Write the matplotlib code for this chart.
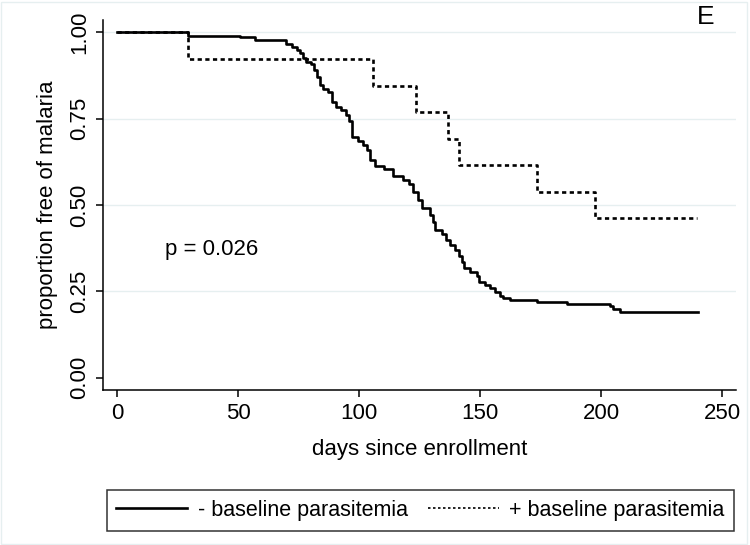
"""Kaplan-Meier style curve: proportion free of malaria by baseline parasitemia (panel E)."""
import matplotlib
matplotlib.use('Agg')
import matplotlib.pyplot as plt
from matplotlib.lines import Line2D

plt.rcParams['font.family'] = ['Liberation Sans', 'DejaVu Sans']

# ── data ─────────────────────────────────────────────────────────────────────
# - baseline parasitemia (solid)
days_neg = [0, 29.3, 50.8, 57.0, 69.8, 72.3, 74.4, 75.6, 76.9, 78.1, 80.2, 81.4,
            82.6, 83.9, 85.1, 87.2, 88.8, 90.5, 92.6, 94.6, 95.9, 97.1, 99.6,
            101.7, 103.3, 104.5, 106.6, 110.3, 114.0, 118.2, 120.7, 122.3, 124.4,
            126.0, 129.3, 130.6, 131.4, 134.3, 136.0, 137.6, 139.7, 141.3, 142.6,
            143.4, 145.9, 148.8, 149.6, 152.1, 154.1, 156.2, 158.3, 159.5, 162.4,
            173.6, 186.0, 203.7, 205.0, 207.9, 240.1]
surv_neg = [1.000, 0.990, 0.986, 0.978, 0.967, 0.958, 0.949, 0.941, 0.926, 0.914,
            0.909, 0.891, 0.871, 0.848, 0.836, 0.828, 0.799, 0.784, 0.775, 0.761,
            0.743, 0.697, 0.686, 0.674, 0.659, 0.630, 0.613, 0.604, 0.584, 0.572,
            0.561, 0.538, 0.514, 0.491, 0.471, 0.451, 0.428, 0.416, 0.399, 0.384,
            0.370, 0.352, 0.335, 0.317, 0.306, 0.294, 0.277, 0.268, 0.259, 0.248,
            0.236, 0.230, 0.225, 0.219, 0.213, 0.207, 0.199, 0.190, 0.190]

# + baseline parasitemia (dashed)
days_pos = [0, 29.3, 105.9, 123.4, 136.9, 141.5, 173.4, 197.5, 239.7]
surv_pos = [1.000, 0.923, 0.846, 0.769, 0.692, 0.615, 0.538, 0.462, 0.462]

x_ticks = [0, 50, 100, 150, 200, 250]
y_ticks = [0.00, 0.25, 0.50, 0.75, 1.00]
y_tick_labels = ['0.00', '0.25', '0.50', '0.75', '1.00']
legend_labels = ['- baseline parasitemia', '+ baseline parasitemia']

# ── figure ──────────────────────────────────────────────────────────────────
fig = plt.figure(figsize=(7.5, 5.45), dpi=100)
ax = fig.add_axes([0.1373, 0.2844, 0.8440, 0.6789])

ax.step(days_neg, surv_neg, where='post', color='black', lw=1.9, zorder=3)
ax.step(days_pos, surv_pos, where='post', color='black', lw=1.9,
        linestyle=(0, (1.6, 1.3)), zorder=3)

ax.set_xlim(-5.8, 255.8)
ax.set_ylim(-0.036, 1.036)

for yv in y_ticks[1:]:
    ax.axhline(yv, color='#e6eff0', lw=1.0, zorder=1)

for side in ('top', 'right'):
    ax.spines[side].set_visible(False)
for side in ('left', 'bottom'):
    ax.spines[side].set_linewidth(1.1)
    ax.spines[side].set_color('black')

ax.set_xticks(x_ticks)
ax.set_yticks(y_ticks)
ax.set_yticklabels(y_tick_labels, rotation=90, va='center')
ax.tick_params(axis='both', direction='out', length=5, width=1.1,
               labelsize=16, pad=4, colors='black')

ax.set_xlabel('days since enrollment', fontsize=16, labelpad=11)
ax.set_ylabel('proportion free of malaria', fontsize=16, labelpad=8)

ax.text(19.8, 0.370, 'p = 0.026', fontsize=16, ha='left', va='center')
fig.text(0.929, 0.968, 'E', fontsize=19, ha='left', va='center')

handles = [Line2D([], [], color='black', lw=1.9),
           Line2D([], [], color='black', lw=1.2, linestyle=(0, (1.5, 1.5)))]
leg = fig.legend(handles, legend_labels, loc='center', bbox_to_anchor=(0.5607, 0.0633),
                 ncol=2, fontsize=15.5, frameon=True, fancybox=False,
                 handlelength=3.3, handletextpad=0.5, columnspacing=0.9,
                 borderpad=0.45, borderaxespad=0)
leg.get_frame().set_edgecolor('black')
leg.get_frame().set_linewidth(1.1)

fig.patches.append(plt.Rectangle((0.001, 0.001), 0.995, 0.996, transform=fig.transFigure,
                                 fill=False, edgecolor='#e6eff0', lw=1.0))

plt.savefig('out.png', dpi=100, facecolor='white')
